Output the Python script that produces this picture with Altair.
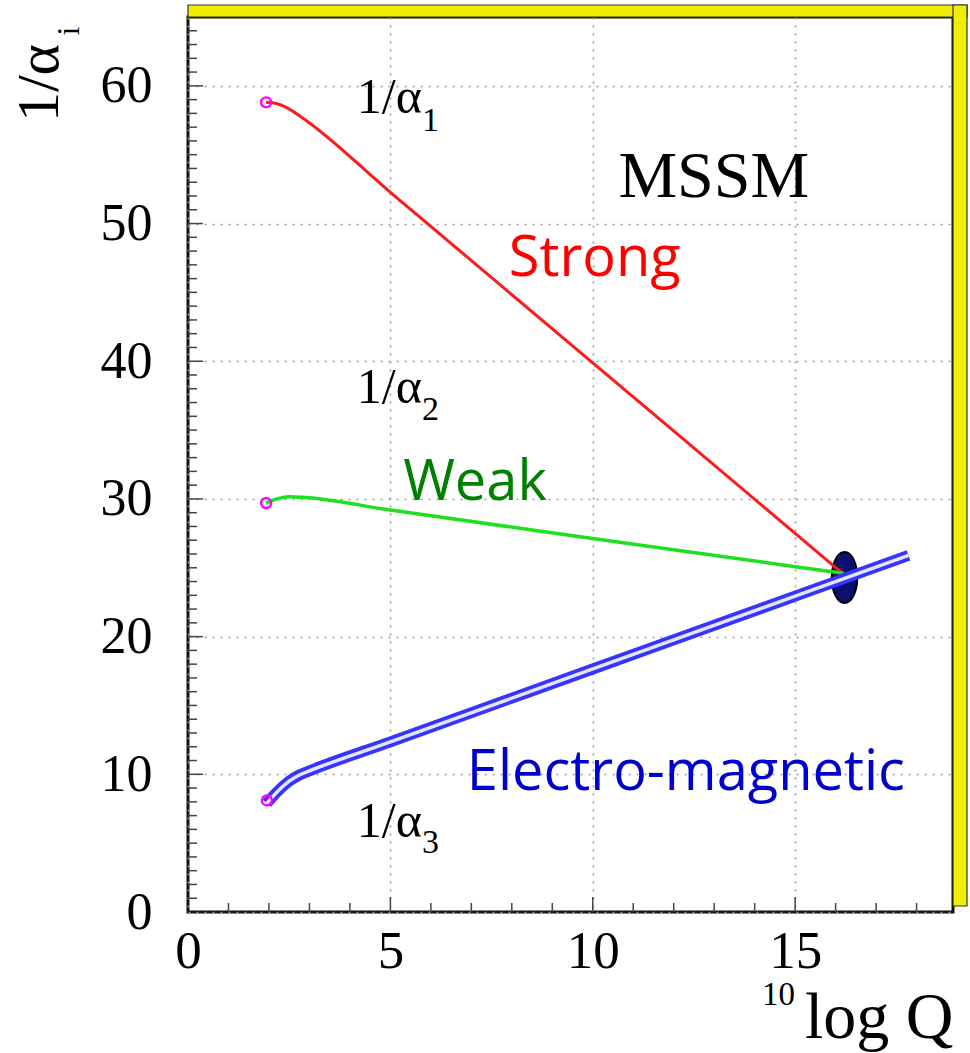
import altair as alt
import pandas as pd

# ---------------- data ----------------
red_x = [1.93, 2.2, 2.45, 2.77, 5.0, 10.0, 15.0, 16.17]
red_y = [58.8, 58.7, 58.4, 57.8, 52.27, 39.88, 27.5, 24.6]

green_x = [1.93, 2.2, 2.5, 2.8, 5.0, 10.0, 15.0, 16.2]
green_y = [29.7, 30.0, 30.15, 30.12, 29.19, 27.13, 25.08, 24.6]

blue_x = [1.95, 2.1, 2.3, 2.5, 2.75, 3.0, 5.0, 10.0, 15.0, 17.8]
blue_y = [7.9, 8.4, 9.0, 9.5, 9.95, 10.25, 12.36, 17.65, 22.94, 25.9]

start_x = [1.93, 1.93, 1.95]
start_y = [58.8, 29.7, 8.1]

gut_x = [16.22]
gut_y = [24.3]

x_ticks = [0, 5, 10, 15]
y_ticks = [0, 10, 20, 30, 40, 50, 60]
x_minor = [1, 2, 3, 4, 6, 7, 8, 9, 11, 12, 13, 14, 16, 17, 18]
x_major = [5, 10, 15]
y_major = [10, 20, 30, 40, 50, 60]
y_minor = [v for v in range(1, 65) if v % 10 != 0]

alpha_lab = ["1/α", "1/α", "1/α"]
alpha_lab_x = [4.17, 4.17, 4.17]
alpha_lab_y = [58.06, 36.94, 5.44]
alpha_sub = ["1", "2", "3"]
alpha_sub_x = [5.78, 5.78, 5.78]
alpha_sub_y = [56.75, 35.7, 4.28]

force_lab = ["Strong", "Weak", "Electro-magnetic"]
force_x = [10.05, 7.09, 12.3]
force_y = [46.2, 29.9, 8.85]
force_col = ["#ff0000", "#008000", "#0000cc"]

# ---------------- layout ----------------
W, H = 765, 895
xs = alt.Scale(domain=[0, 18.9], nice=False, zero=False)
ys = alt.Scale(domain=[0, 65], nice=False, zero=False)
SERIF = "Liberation Serif"
SANS = "Open Sans"

xaxis = alt.Axis(values=x_ticks, title=None, ticks=False, domain=False,
                 labelFont=SERIF, labelFontSize=53, labelColor="black",
                 labelPadding=13, labelFlush=False, labelOverlap=False,
                 grid=True, gridDash=[2, 6], gridColor="#9a9a9a", gridWidth=1.6)
yaxis = alt.Axis(values=y_ticks, title=None, ticks=False, domain=False,
                 labelFont=SERIF, labelFontSize=52, labelColor="black",
                 labelPadding=36, labelFlush=False, labelOverlap=False,
                 grid=True, gridDash=[2, 6], gridColor="#9a9a9a", gridWidth=1.6)


def X(f):
    return alt.X(f, type="quantitative", scale=xs, axis=xaxis)


def Y(f):
    return alt.Y(f, type="quantitative", scale=ys, axis=yaxis)


one = pd.DataFrame({"a": [0]})

# decorative yellow 3-D frame
top_bar = alt.Chart(one).mark_rect(fill="#f2ee00", stroke="#333333", strokeWidth=1.2).encode(
    x=alt.value(0), x2=alt.value(W + 14), y=alt.value(-12), y2=alt.value(0))
right_bar = alt.Chart(one).mark_rect(fill="#f2ee00", stroke="#333333", strokeWidth=1.2).encode(
    x=alt.value(W), x2=alt.value(W + 14), y=alt.value(-12), y2=alt.value(H - 6))

# tick marks (inside)
xt_min = alt.Chart(pd.DataFrame({"v": x_minor})).mark_rule(color="#444444", strokeWidth=1.5).encode(
    x=X("v"), y=alt.value(H), y2=alt.value(H - 9))
xt_maj = alt.Chart(pd.DataFrame({"v": x_major})).mark_rule(color="#444444", strokeWidth=1.5).encode(
    x=X("v"), y=alt.value(H), y2=alt.value(H - 15))
yt_min = alt.Chart(pd.DataFrame({"v": y_minor})).mark_rule(color="#444444", strokeWidth=1.5).encode(
    y=Y("v"), x=alt.value(0), x2=alt.value(9))
yt_maj = alt.Chart(pd.DataFrame({"v": y_major})).mark_rule(color="#444444", strokeWidth=1.5).encode(
    y=Y("v"), x=alt.value(0), x2=alt.value(15))

# unification ellipse
ellipse_path = "M -0.5 0 A 0.5 1 0 1 1 0.5 0 A 0.5 1 0 1 1 -0.5 0 Z"
gut = alt.Chart(pd.DataFrame({"x": gut_x, "y": gut_y})).mark_point(
    shape=ellipse_path, size=2600, filled=True, fill="#0b0f6e", stroke="black",
    strokeWidth=2, opacity=1).encode(x=X("x"), y=Y("y"))

red = alt.Chart(pd.DataFrame({"x": red_x, "y": red_y})).mark_line(
    color="#ff1a1a", strokeWidth=3, interpolate="monotone").encode(x=X("x"), y=Y("y"))
green = alt.Chart(pd.DataFrame({"x": green_x, "y": green_y})).mark_line(
    color="#1ee01e", strokeWidth=3.5, interpolate="monotone").encode(x=X("x"), y=Y("y"))
blue_outer = alt.Chart(pd.DataFrame({"x": blue_x, "y": blue_y})).mark_line(
    color="#3535ff", strokeWidth=11, interpolate="monotone").encode(x=X("x"), y=Y("y"))
blue_inner = alt.Chart(pd.DataFrame({"x": blue_x, "y": blue_y})).mark_line(
    color="#e4e4ff", strokeWidth=3.5, interpolate="monotone").encode(x=X("x"), y=Y("y"))

starts = alt.Chart(pd.DataFrame({"x": start_x, "y": start_y})).mark_point(
    shape="circle", size=100, filled=False, color="#ff00ff", strokeWidth=2.4, opacity=1).encode(
    x=X("x"), y=Y("y"))

# text annotations
lab = alt.Chart(pd.DataFrame({"t": alpha_lab, "x": alpha_lab_x, "y": alpha_lab_y})).mark_text(
    font=SERIF, fontSize=50, align="left", baseline="alphabetic", color="black").encode(
    x=X("x"), y=Y("y"), text="t:N")
sub = alt.Chart(pd.DataFrame({"t": alpha_sub, "x": alpha_sub_x, "y": alpha_sub_y})).mark_text(
    font=SERIF, fontSize=34, align="left", baseline="alphabetic", color="black").encode(
    x=X("x"), y=Y("y"), text="t:N")
forces = alt.Chart(pd.DataFrame({"t": force_lab, "x": force_x, "y": force_y, "c": force_col})).mark_text(
    font=SANS, fontSize=56, align="center", baseline="alphabetic").encode(
    x=X("x"), y=Y("y"), text="t:N", color=alt.Color("c:N", scale=None))
mssm = alt.Chart(pd.DataFrame({"t": ["MSSM"], "x": [12.99], "y": [51.9]})).mark_text(
    font=SERIF, fontSize=66, align="center", baseline="alphabetic", color="black").encode(
    x=X("x"), y=Y("y"), text="t:N")

# axis titles
xt_main = alt.Chart(one).mark_text(text="log Q", font=SERIF, fontSize=66, align="left",
                                   baseline="alphabetic", color="black").encode(
    x=alt.value(617), y=alt.value(1021))
xt_sup = alt.Chart(one).mark_text(text="10", font=SERIF, fontSize=33, align="left",
                                  baseline="alphabetic", color="black").encode(
    x=alt.value(574), y=alt.value(988))
yt_main = alt.Chart(one).mark_text(text="1/α", font=SERIF, fontSize=60, angle=270, align="center",
                                   baseline="alphabetic", color="black").encode(
    x=alt.value(-130), y=alt.value(66))
yt_sub = alt.Chart(one).mark_text(text="i", font=SERIF, fontSize=32, angle=270, align="center",
                                  baseline="alphabetic", color="black").encode(
    x=alt.value(-109), y=alt.value(14))

chart = alt.layer(
    xt_min, xt_maj, yt_min, yt_maj,
    gut, red, green, blue_outer, blue_inner, starts,
    lab, sub, forces, mssm,
    top_bar, right_bar,
    xt_main, xt_sup, yt_main, yt_sub,
).properties(
    width=W, height=H,
    autosize=alt.AutoSizeParams(type="none"),
    padding={"left": 188, "top": 17, "right": 17, "bottom": 141},
    background="white",
).configure_view(stroke="#111111", strokeWidth=3)

chart.save("out.html", embed_options={"renderer": "svg", "actions": False})
